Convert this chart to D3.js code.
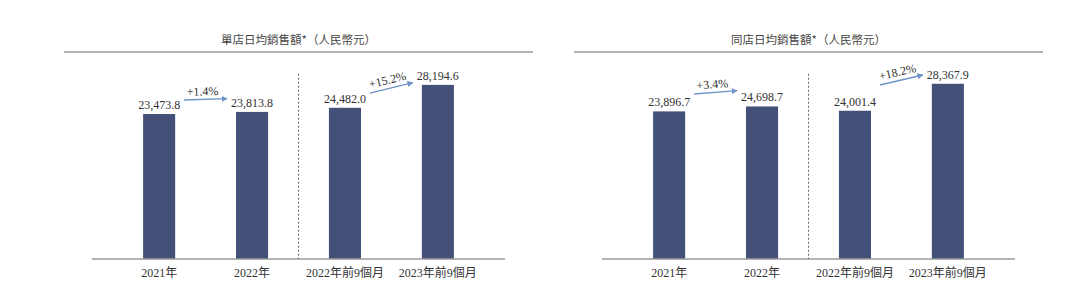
<!DOCTYPE html>
<meta charset="utf-8">
<title>日均銷售額</title>
<script src="https://cdn.jsdelivr.net/npm/d3@7"></script>
<style>
  body { margin: 0; background: #fff; }
  text { font-family: "Liberation Serif", "Noto Sans CJK TC", serif; fill: #333; }
</style>
<body>
<div id="chart"></div>
<script>
// data
var categories = ["2021年", "2022年", "2022年前9個月", "2023年前9個月"];
var titles = ["單店日均銷售額*（人民幣元）", "同店日均銷售額*（人民幣元）"];
var singleStore = [23473.8, 23813.8, 24482.0, 28194.6];
var sameStore = [23896.7, 24698.7, 24001.4, 28367.9];
var growthSingle = ["+1.4%", "+15.2%"];
var growthSame = ["+3.4%", "+18.2%"];
// arrow start/end heights, in RMB units
var arrowLevelsSingle = [[25740, 25950], [26870, 28540]];
var arrowLevelsSame = [[26710, 27250], [28170, 29790]];

var svg = d3.select("#chart").append("svg")
    .attr("width", 1080)
    .attr("height", 307);

svg.append("defs").append("marker")
    .attr("id", "head")
    .attr("viewBox", "0 0 10 10")
    .attr("refX", 9).attr("refY", 5)
    .attr("markerWidth", 6).attr("markerHeight", 6)
    .attr("markerUnits", "userSpaceOnUse")
    .attr("orient", "auto")
  .append("path")
    .attr("d", "M0,0L10,5L0,10z")
    .attr("fill", "#6f93c7");

var panels = [
  {title: titles[0], values: singleStore, growth: growthSingle, arrows: arrowLevelsSingle, dx: 0},
  {title: titles[1], values: sameStore, growth: growthSame, arrows: arrowLevelsSame, dx: 510}
];

var x = d3.scaleBand()
    .domain(categories)
    .range([92, 505])
    .paddingInner(0.655)
    .paddingOuter(0.55);

var y = d3.scaleLinear()
    .domain([0, 30000])
    .range([259, 73.7]);

panels.forEach(function(p) {
  var g = svg.append("g").attr("transform", "translate(" + p.dx + ",0)");

  // title + rule
  g.append("text")
    .attr("x", 298.5).attr("y", 44)
    .attr("text-anchor", "middle")
    .style("font-size", "11.5px")
    .style("font-family", "'Noto Sans CJK TC', sans-serif")
    .style("fill", "#444")
    .text(p.title);
  g.append("line")
    .attr("x1", 64).attr("x2", 533)
    .attr("y1", 52).attr("y2", 52)
    .attr("stroke", "#9a9a9a").attr("stroke-width", 1.5);

  // bars
  g.selectAll("rect")
    .data(p.values)
    .enter().append("rect")
    .attr("x", function(d, i) { return x(categories[i]); })
    .attr("y", function(d) { return y(d); })
    .attr("width", x.bandwidth())
    .attr("height", function(d) { return y(0) - y(d); })
    .attr("fill", "#435078");

  // value labels
  g.selectAll(".val")
    .data(p.values)
    .enter().append("text")
    .attr("class", "val")
    .attr("x", function(d, i) { return x(categories[i]) + x.bandwidth() / 2; })
    .attr("y", function(d) { return y(d) - 5; })
    .attr("text-anchor", "middle")
    .style("font-size", "12px")
    .text(function(d) { return d3.format(",.1f")(d); });

  // x axis
  var axis = g.append("g")
    .attr("transform", "translate(0," + y(0) + ")")
    .call(d3.axisBottom(x).tickSize(0).tickPadding(9));
  axis.select(".domain").attr("stroke", "#9a9a9a").attr("stroke-width", 1.5)
    .attr("d", "M92,0H505");
  axis.selectAll("text")
    .style("font-size", "12px")
    .style("font-family", "'Liberation Serif', 'Noto Sans CJK TC', serif")
    .attr("fill", "#333");

  // dashed divider between full-year and 9-month groups
  var xd = (x(categories[1]) + x(categories[2]) + x.bandwidth()) / 2;
  g.append("line")
    .attr("x1", xd).attr("x2", xd)
    .attr("y1", y(30000)).attr("y2", y(0))
    .attr("stroke", "#666").attr("stroke-width", 1)
    .attr("stroke-dasharray", "2,2");

  // growth arrows
  p.growth.forEach(function(lbl, k) {
    var a = categories[k * 2], b = categories[k * 2 + 1];
    var x1 = x(a) + x.bandwidth() / 2 + 25;
    var x2 = x(b) + x.bandwidth() / 2 - 25;
    var y1 = y(p.arrows[k][0]), y2 = y(p.arrows[k][1]);
    g.append("line")
      .attr("x1", x1).attr("y1", y1)
      .attr("x2", x2).attr("y2", y2)
      .attr("stroke", "#6f93c7").attr("stroke-width", 1.3)
      .attr("marker-end", "url(#head)");
    var ang = Math.atan2(y2 - y1, x2 - x1) * 180 / Math.PI;
    var mx = (x1 + x2) / 2 - 3, my = (y1 + y2) / 2 - 4;
    g.append("text")
      .attr("transform", "translate(" + mx + "," + my + ") rotate(" + ang + ")")
      .attr("text-anchor", "middle")
      .style("font-size", "12px")
      .text(lbl);
  });
});
</script>
</body>
